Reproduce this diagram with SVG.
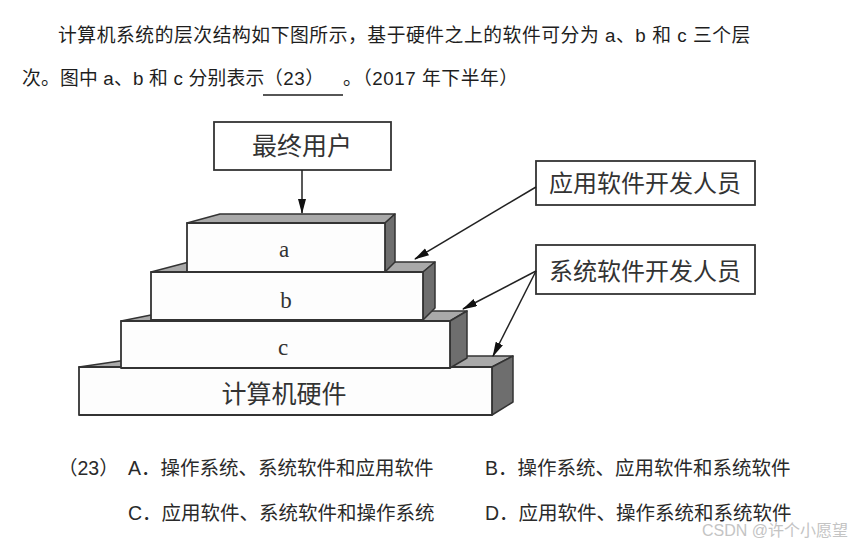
<svg xmlns="http://www.w3.org/2000/svg" width="853" height="544" viewBox="0 0 853 544">
<style>
.txt{font-family:"Liberation Sans","Noto Sans CJK SC",sans-serif;fill:#1e1e1e;font-size:18.8px;letter-spacing:0.55px}
.opt{font-family:"Liberation Sans","Noto Sans CJK SC",sans-serif;fill:#2a2a2a;font-size:19.5px}
.lbl{font-family:"Noto Sans CJK SC",sans-serif;fill:#333;text-anchor:middle}
.ser{font-family:"Liberation Serif",serif;fill:#333;font-size:23px;text-anchor:middle}
.box{fill:#fff;stroke:#333;stroke-width:1.8}
.front{fill:#fdfdfd;stroke:#333;stroke-width:1.8;stroke-linejoin:round}
.top{fill:#a9a9a9;stroke:#333;stroke-width:1.5;stroke-linejoin:round}
.side{fill:#6e6e6e;stroke:#333;stroke-width:1.5;stroke-linejoin:round}
.conn{stroke:#222;stroke-width:1.5;fill:none}
</style>
<defs>
<marker id="ah" markerUnits="userSpaceOnUse" markerWidth="16" markerHeight="10" refX="14" refY="4" orient="auto">
<path d="M0,0 L15,4 L0,8 z" fill="#111"/>
</marker>
</defs>
<rect width="853" height="544" fill="#fff"/>

<g id="question">
<text class="txt" x="58" y="42">计算机系统的层次结构如下图所示，基于硬件之上的软件可分为 a、b 和 c 三个层</text>
<text class="txt" x="22" y="85" style="letter-spacing:0.2px">次。图中 a、b 和 c 分别表示</text>
<text class="txt" x="264" y="85">（23）</text>
<line x1="263" y1="95" x2="343" y2="95" stroke="#1e1e1e" stroke-width="1.3"/>
<text class="txt" x="343" y="85">。（2017 年下半年）</text>
</g>

<g id="hardware">
<polygon class="top" points="79,367 154,356 513,356 492,367"/>
<polygon class="side" points="492,367 513,356 513,402 492,415"/>
<rect class="front" x="79" y="367" width="413" height="48"/>
<text class="lbl" x="284" y="403" font-size="25">计算机硬件</text>
</g>
<g id="layer-c">
<polygon class="top" points="121,321 171,311 467,311 450,321"/>
<polygon class="side" points="450,321 467,311 467,358 450,368"/>
<rect class="front" x="121" y="321" width="329" height="47"/>
<text class="ser" x="283" y="355">c</text>
</g>
<g id="layer-b">
<polygon class="top" points="151,272 189,262 435,262 423,272"/>
<polygon class="side" points="423,272 435,262 435,308 423,320"/>
<rect class="front" x="151" y="272" width="272" height="48"/>
<text class="ser" x="286" y="308">b</text>
</g>
<g id="layer-a">
<polygon class="top" points="187,223 220,214 395,214 385,223"/>
<polygon class="side" points="385,223 395,214 395,262 385,272"/>
<rect class="front" x="187" y="223" width="198" height="49"/>
<text class="ser" x="284" y="257">a</text>
</g>

<g id="end-user">
<rect class="box" x="214" y="122" width="177" height="48"/>
<text class="lbl" x="302" y="155" font-size="25">最终用户</text>
</g>
<g id="app-dev">
<rect class="box" x="536" y="161" width="219" height="44"/>
<text class="lbl" x="645" y="192" font-size="24">应用软件开发人员</text>
</g>
<g id="sys-dev">
<rect class="box" x="536" y="245" width="219" height="49"/>
<text class="lbl" x="645" y="280" font-size="24">系统软件开发人员</text>
</g>

<g id="connectors">
<line class="conn" x1="302" y1="170" x2="302" y2="213" marker-end="url(#ah)"/>
<line class="conn" x1="536" y1="187" x2="415" y2="259" marker-end="url(#ah)"/>
<line class="conn" x1="536" y1="271" x2="463" y2="309" marker-end="url(#ah)"/>
<line class="conn" x1="536" y1="271" x2="493" y2="356" marker-end="url(#ah)"/>
</g>

<g id="options">
<text class="opt" x="58" y="475">（23）</text>
<text class="opt" x="128" y="475">A．操作系统、系统软件和应用软件</text>
<text class="opt" x="485" y="475">B．操作系统、应用软件和系统软件</text>
<text class="opt" x="128" y="520">C．应用软件、系统软件和操作系统</text>
<text class="opt" x="485" y="520">D．应用软件、操作系统和系统软件</text>
</g>
<text x="702" y="536" font-family="Liberation Sans,Noto Sans CJK SC,sans-serif" font-size="16" fill="#c4c4c4">CSDN @许个小愿望</text>
</svg>
